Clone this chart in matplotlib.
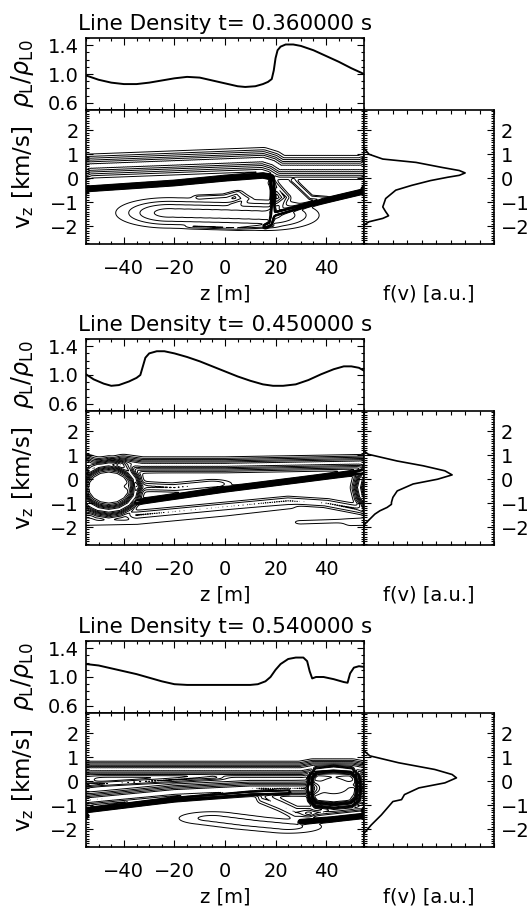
import numpy as np
import matplotlib
matplotlib.use("Agg")
import matplotlib.pyplot as plt
from matplotlib.ticker import MultipleLocator, FixedLocator, NullFormatter, FormatStrFormatter

# -----------------------------
# Panel titles
# -----------------------------
times = ["0.360000", "0.450000", "0.540000"]

# -----------------------------
# Line density rho_L / rho_L0 vs z [m]
# -----------------------------
z_rho_1 = [-55, -50, -45, -40, -35, -30, -25, -20, -15, -10, -5, 0, 5, 8, 12, 15, 17, 18.5, 19.3, 20, 20.8, 22, 24, 27, 30, 35, 40, 45, 50, 55]
rho_1 = [0.98, 0.92, 0.88, 0.86, 0.86, 0.88, 0.91, 0.94, 0.96, 0.95, 0.91, 0.87, 0.83, 0.82, 0.83, 0.86, 0.89, 0.93, 1.05, 1.22, 1.33, 1.38, 1.41, 1.41, 1.39, 1.33, 1.25, 1.17, 1.08, 1.00]

z_rho_2 = [-55, -52, -48, -45, -42, -38, -35, -33.5, -32.5, -31.5, -30, -27, -24, -20, -15, -10, -5, 0, 5, 10, 15, 19, 23, 28, 33, 38, 43, 47, 50, 53, 55]
rho_2 = [1.01, 0.94, 0.88, 0.85, 0.86, 0.91, 0.96, 1.00, 1.12, 1.24, 1.30, 1.33, 1.33, 1.30, 1.25, 1.19, 1.12, 1.05, 0.98, 0.92, 0.87, 0.85, 0.85, 0.87, 0.93, 1.01, 1.08, 1.12, 1.12, 1.10, 1.06]

z_rho_3 = [-55, -50, -45, -40, -35, -30, -25, -20, -15, -10, -5, 0, 5, 10, 13, 16, 18, 20, 22, 25, 28, 31, 32.5, 33.5, 34.5, 36, 39, 43, 47, 48.5, 49.5, 51, 53, 55]
rho_3 = [1.18, 1.16, 1.12, 1.08, 1.04, 0.99, 0.94, 0.90, 0.89, 0.89, 0.89, 0.89, 0.89, 0.89, 0.90, 0.94, 1.00, 1.10, 1.18, 1.25, 1.27, 1.27, 1.22, 1.08, 0.98, 1.00, 1.00, 0.97, 0.93, 0.92, 1.05, 1.13, 1.15, 1.14]

# -----------------------------
# Velocity distribution f(v) [a.u.] vs v_z [km/s]
# -----------------------------
v_f_1 = [1.25, 1.0, 0.8, 0.66, 0.45, 0.32, 0.22, 0.12, 0.04, -0.1, -0.3, -0.5, -0.85, -1.2, -1.4, -1.57, -1.68, -1.82, -1.93, -2.0]
f_1 = [0.0, 0.035, 0.13, 0.36, 0.54, 0.66, 0.70, 0.66, 0.58, 0.46, 0.33, 0.22, 0.15, 0.13, 0.15, 0.17, 0.13, 0.035, 0.005, 0.0]

v_f_2 = [1.18, 1.04, 0.76, 0.56, 0.35, 0.18, 0.0, -0.2, -0.49, -0.76, -0.97, -1.05, -1.18, -1.32, -1.46, -1.67, -1.88, -2.0]
f_2 = [0.0, 0.03, 0.23, 0.41, 0.56, 0.61, 0.51, 0.34, 0.23, 0.20, 0.19, 0.19, 0.16, 0.11, 0.075, 0.04, 0.005, 0.0]

v_f_3 = [1.27, 1.06, 0.77, 0.49, 0.28, 0.14, -0.07, -0.28, -0.56, -0.77, -0.85, -1.06, -1.41, -1.83, -2.18]
f_3 = [0.0, 0.04, 0.24, 0.49, 0.61, 0.64, 0.56, 0.38, 0.28, 0.26, 0.20, 0.17, 0.12, 0.05, 0.0]

# -----------------------------
# Phase-space structures:
# (z, v) ridge lines, widths (z, v) and heights
# -----------------------------
ridges_1 = [
    ([(-55, 0.5), (-30, 0.6), (0, 0.72), (15, 0.78), (19, 0.65), (22, 0.45), (55, 0.45)], 3.0, 0.3, 0.5),
    ([(-55, -0.45), (-20, -0.2), (0, 0.0), (15, 0.12), (18.5, 0.05), (19, -0.5), (19, -1.5), (18, -1.9), (16, -2.0)], 0.6, 0.065, 1.0),
    ([(19.5, -1.5), (35, -1.05), (55, -0.55)], 0.6, 0.06, 1.0),
    ([(-22, -1.45), (0, -1.5), (16, -1.55)], 14.0, 0.42, 0.3),
    ([(-12, -2.02), (5, -2.08), (17, -2.0)], 3.0, 0.06, 0.1),
    ([(-10, -0.8), (0, -0.75), (5, -0.6), (8, -0.85), (4, -1.1)], 2.0, 0.08, 0.1),
    ([(27, -0.1), (34, -0.8), (40, -0.85)], 1.0, 0.08, 0.12),
    ([(19, -0.2), (24, -0.8), (19, -1.4)], 1.5, 0.12, 0.15),
]

ridges_2 = [
    ([(-40, 0.7), (-33, 0.6), (0, 0.6), (55, 0.7)], 3.0, 0.2, 0.5),
    ([(-35, -0.35), (-35.8, 0.02), (-38.2, 0.34), (-41.8, 0.55), (-46, 0.62), (-50.2, 0.55), (-53.8, 0.34),
      (-56.2, 0.02), (-57, -0.35), (-56.2, -0.72), (-53.8, -1.04), (-50.2, -1.25), (-46, -1.32),
      (-41.8, -1.25), (-38.2, -1.04), (-35.8, -0.72), (-35, -0.35)], 1.8, 0.2, 0.7),
    ([(-46, -0.35)], 12.0, 0.75, 0.05),
    ([(-35, -0.95), (0, -0.42), (30, -0.02), (55, 0.32)], 0.6, 0.065, 1.0),
    ([(-33, -0.3), (-20, -0.35), (-5, -0.2)], 6.0, 0.15, 0.15),
    ([(-35, -1.5), (0, -1.15), (25, -0.9), (40, -1.0), (55, -1.3)], 3.0, 0.15, 0.15),
    ([(-60, -1.85), (-35, -1.8), (0, -1.45), (25, -1.15)], 3.0, 0.12, 0.05),
    ([(30, -1.8), (45, -1.75), (55, -1.7)], 3.0, 0.1, 0.05),
]

ridges_3 = [
    ([(-55, 0.5), (20, 0.5), (30, 0.5), (35, 0.6), (50, 0.6), (55, 0.5)], 3.0, 0.2, 0.5),
    ([(33.5, -0.3), (34, 0.2), (36, 0.45), (43, 0.52), (50, 0.45), (52.5, 0.2), (53, -0.3), (52.5, -0.75),
      (50, -0.98), (43, -1.05), (36, -0.98), (34, -0.75), (33.5, -0.3)], 0.8, 0.1, 0.8),
    ([(43, -0.2)], 8.0, 0.45, 0.05),
    ([(-55, 0.0)], 4.0, 0.25, 0.05),
    ([(-55, -0.15), (-30, 0.0), (-5, 0.15)], 4.0, 0.08, 0.15),
    ([(-55, -0.8), (-20, -0.45), (10, -0.3), (33, -0.3)], 3.0, 0.2, 0.45),
    ([(-55, -1.2), (-20, -0.75), (10, -0.5), (25, -0.45)], 0.6, 0.065, 1.0),
    ([(15, -0.7), (22, -1.0), (28, -1.3), (33, -1.3)], 2.0, 0.2, 0.15),
    ([(-5, -1.55), (10, -1.75), (25, -1.9)], 12.0, 0.25, 0.1),
    ([(30, -1.7), (42, -1.6), (55, -1.45)], 0.6, 0.06, 1.0),
    ([(33, -1.35), (55, -1.1)], 2.0, 0.1, 0.15),
]

z_rho = [z_rho_1, z_rho_2, z_rho_3]
rho = [rho_1, rho_2, rho_3]
v_f = [v_f_1, v_f_2, v_f_3]
f_v = [f_1, f_2, f_3]
ridges = [ridges_1, ridges_2, ridges_3]

levels = [0.03, 0.08, 0.15, 0.25, 0.35, 0.45, 0.55, 0.65, 0.75, 0.85, 0.95]

# phase-space grid
zg = np.linspace(-55, 55, 440)
vg = np.linspace(-2.75, 2.85, 360)
Z, V = np.meshgrid(zg, vg)


def ridge_field(pts, wz, wv, amp):
    # gaussian ridge along a polyline, periodic in z (box length 110 m)
    pts = np.asarray(pts, float)
    samples = [pts[-1:]]
    for (z0, v0), (z1, v1) in zip(pts[:-1], pts[1:]):
        n = int(max(abs(z1 - z0) / (0.3 * wz), abs(v1 - v0) / (0.3 * wv))) + 1
        t = np.linspace(0, 1, n, endpoint=False)
        samples.append(np.column_stack([z0 + (z1 - z0) * t, v0 + (v1 - v0) * t]))
    s = np.vstack(samples)
    d2 = np.full(Z.shape, np.inf)
    for zs, vs in s:
        for shift in (-110.0, 0.0, 110.0):
            if abs(zs + shift) > 55 + 4 * wz:
                continue
            dz = (Z - zs - shift) / wz
            dv = (V - vs) / wv
            d2 = np.minimum(d2, dz * dz + dv * dv)
    return amp * np.exp(-d2)


plt.rcParams["font.family"] = ["DejaVu Sans"]
plt.rcParams["mathtext.fontset"] = "dejavusans"
fs = 14

W, H = 528.0, 911.0
fig = plt.figure(figsize=(W / 100, H / 100), dpi=100)

x_left, x_mid, x_right = 86, 364, 494


def style(ax):
    ax.tick_params(which="both", direction="in", top=True, right=True, labelsize=fs, width=0.8)
    ax.tick_params(which="major", length=5)
    ax.tick_params(which="minor", length=2.5)
    ax.tick_params(axis="y", pad=5)
    ax.tick_params(axis="x", pad=11)
    for sp in ax.spines.values():
        sp.set_linewidth(1.2)


for k in range(3):
    dy = [0, 301, 603][k]
    top, mid, bot = 38 + dy, 110 + dy, 244 + dy

    # --- density panel ---
    ax_r = fig.add_axes([x_left / W, 1 - mid / H, (x_mid - x_left) / W, (mid - top) / H])
    ax_r.plot(z_rho[k], rho[k], color="black", lw=1.4)
    ax_r.set_xlim(-55, 55)
    ax_r.set_ylim(0.5, 1.5)
    ax_r.xaxis.set_major_locator(MultipleLocator(20))
    ax_r.xaxis.set_minor_locator(MultipleLocator(5))
    ax_r.xaxis.set_major_formatter(NullFormatter())
    ax_r.yaxis.set_major_locator(FixedLocator([0.6, 1.0, 1.4]))
    ax_r.yaxis.set_minor_locator(MultipleLocator(0.1))
    ax_r.yaxis.set_major_formatter(FormatStrFormatter("%.1f"))
    style(ax_r)
    ax_r.set_ylabel(r"$\rho_{\rm L}/\rho_{\rm L0}$", fontsize=17)
    ax_r.yaxis.set_label_coords(-0.18, 0.5)
    ax_r.set_title("Line Density t= " + times[k] + " s", fontsize=15.5, pad=6)

    # --- phase space contours ---
    F = np.zeros_like(Z)
    for pts, wz, wv, amp in ridges[k]:
        F += ridge_field(pts, wz, wv, amp)
    ax_p = fig.add_axes([x_left / W, 1 - bot / H, (x_mid - x_left) / W, (bot - mid) / H])
    ax_p.contour(Z, V, F, levels=levels, colors="black", linewidths=0.7)
    ax_p.set_xlim(-55, 55)
    ax_p.set_ylim(-2.75, 2.85)
    ax_p.xaxis.set_major_locator(MultipleLocator(20))
    ax_p.xaxis.set_minor_locator(MultipleLocator(5))
    ax_p.yaxis.set_major_locator(MultipleLocator(1))
    ax_p.yaxis.set_minor_locator(MultipleLocator(0.1))
    style(ax_p)
    ax_p.set_xlabel("z [m]", fontsize=fs)
    ax_p.xaxis.set_label_coords(0.5, -0.30)
    ax_p.set_ylabel(r"v$_{\rm z}$ [km/s]", fontsize=16.5)
    ax_p.yaxis.set_label_coords(-0.18, 0.5)

    # --- f(v) panel ---
    ax_f = fig.add_axes([x_mid / W, 1 - bot / H, (x_right - x_mid) / W, (bot - mid) / H])
    ax_f.plot(f_v[k], v_f[k], color="black", lw=1.2)
    ax_f.set_xlim(0, 0.9)
    ax_f.set_ylim(-2.75, 2.85)
    ax_f.xaxis.set_major_locator(MultipleLocator(0.1))
    ax_f.xaxis.set_major_formatter(NullFormatter())
    ax_f.yaxis.set_major_locator(MultipleLocator(1))
    ax_f.yaxis.set_minor_locator(MultipleLocator(0.1))
    style(ax_f)
    ax_f.tick_params(axis="x", which="major", length=3)
    ax_f.tick_params(labelleft=False, labelright=True)
    ax_f.set_xlabel("f(v) [a.u.]", fontsize=fs)
    ax_f.xaxis.set_label_coords(0.5, -0.30)

fig.savefig("out.png", dpi=100)
